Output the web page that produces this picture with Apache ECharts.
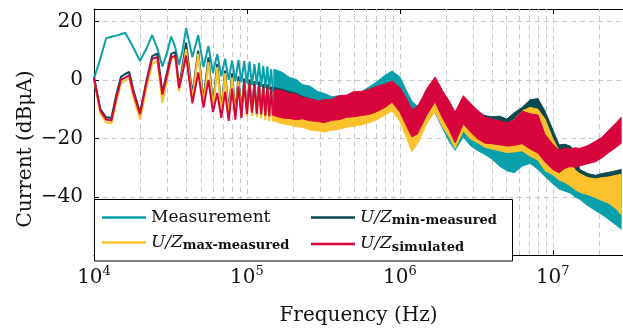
<!DOCTYPE html>
<html>
<head>
<meta charset="utf-8">
<script src="https://cdn.jsdelivr.net/npm/echarts@6.0.0/dist/echarts.min.js"></script>
<style>
html, body { margin: 0; padding: 0; background: #fff; }
#chart { width: 623px; height: 331px; }
</style>
</head>
<body>
<div id="chart"></div>
<script>
// low-frequency part: individual resonance points (Hz / dBµA)
const lowFreq = [10000, 11000, 12000, 13000, 14000, 15000, 16000, 17000, 18000, 20000, 22000, 24000, 26000, 28000, 30000, 32000, 34000, 36000, 38000, 40000,
	44000, 48000, 52000, 56000, 60000, 64000, 68000, 72000, 76000, 80000, 84000, 88000, 92000, 96000, 100000, 104000, 108000, 112000, 116000, 120000,
	124000, 128000, 132000, 136000, 140000, 144000, 148000]
const measLow = [0.5, 7.2, 14.2, 14.7, 15.1, 15.6, 16.1, 13.6, 11.2, 6.5, 10.6, 15.3, 10.6, 4.6, 9.2, 14.8, 11.1, 5.2, 10.3, 17.6,
	7.8, 15.3, 4.4, 11.6, 2.4, 8.8, 1.2, 7.2, 0.0, 6.6, -0.5, 6.8, -0.8, 6.4, -1.2, 6.2, -1.8, 5.4, -1.6, 5.8,
	-2.4, 4.8, -2.8, 4.6, -3.4, 3.6, -4.0]
const minLow = [1.0, -10.0, -12.8, -13.0, -5.0, 1.0, 2.0, 2.7, -3.0, -11.2, -0.5, 8.1, 9.0, -4.4, 2.5, 8.9, 9.5, -2.3, 5.0, 12.7,
	-5.0, 10.0, -7.0, 7.7, -8.5, 5.5, -10.0, 3.2, -11.0, 2.2, -11.2, 1.2, -10.8, 0.5, -10.5, 0.2, -10.6, -0.4, -11.0, -0.6,
	-11.4, -1.4, -12.0, -1.6, -12.2, -2.4, -12.4]
const maxLow = [0.0, -11.5, -14.5, -14.8, -7.5, -1.2, -0.3, 0.5, -5.5, -13.4, -3.0, 5.5, 6.5, -7.8, 0.0, 7.2, 7.7, -3.9, 3.5, 10.5,
	-6.5, 8.9, -8.5, 6.1, -10.0, 4.4, -11.5, 2.2, -12.5, 0.8, -12.6, -0.4, -12.2, -1.0, -12.5, -1.6, -12.4, -2.0, -12.8, -2.4,
	-13.2, -3.0, -13.8, -3.2, -14.0, -3.8, -14.2]
const simLow = [0.5, -10.5, -13.5, -13.9, -6.0, 0.0, 0.8, 1.6, -4.0, -11.7, -1.0, 7.2, 7.7, -5.0, 1.5, 7.7, 8.3, -2.8, 2.5, 8.3,
	-8.0, 2.5, -9.5, 0.0, -11.0, -4.5, -13.0, -4.0, -14.0, -3.0, -13.6, -2.2, -13.0, -1.0, -11.7, -1.4, -11.2, -1.8, -11.6, -2.0,
	-11.8, -2.6, -12.2, -2.4, -12.4, -3.2, -12.2]

// dense part: upper / lower envelope of each noisy trace
const bandFreq = [
	1.5e5, 1.7e5, 1.9e5, 2.1e5, 2.3e5, 2.6e5, 2.9e5, 3.2e5, 3.6e5, 4e5, 4.5e5, 5e5, 5.6e5, 6.3e5, 7.1e5, 8e5, 8.9e5,
	1e6, 1.1e6, 1.2e6, 1.3e6, 1.4e6, 1.5e6, 1.7e6, 1.9e6, 2.1e6, 2.3e6, 2.6e6, 2.9e6, 3.2e6, 3.6e6, 4e6, 4.5e6, 5e6, 5.6e6, 6.3e6, 7.1e6, 8e6, 8.9e6,
	1e7, 1.1e7, 1.2e7, 1.3e7, 1.4e7, 1.5e7, 1.7e7, 1.9e7, 2.1e7, 2.3e7, 2.6e7, 2.8e7
]
const measHi = [3.6, 2.6, 0.8, 0.2, -1.6, -2.2, -4.0, -4.6, -5.8, -5.4, -5.9, -4.4, -4.0, -2.4, -0.6, 1.6, 3.0,
	1.0, -3.5, -7.3, -9.0, -8.0, -5.5, -3.5, -7.0, -11.0, -14.0, -11.5, -13.5, -15.0, -17.0, -19.5, -21.5, -23.0, -23.5, -21.5, -21.0, -23.0, -26.0,
	-28.0, -30.0, -31.0, -31.5, -33.0, -33.5, -36.0, -37.5, -39.0, -40.5, -43.0, -44.5]
const measLo = [-4.0, -4.8, -5.8, -6.4, -7.6, -8.2, -9.4, -9.8, -10.4, -10.2, -10.6, -10.0, -9.4, -8.6, -7.2, -5.4, -3.8,
	-5.5, -9.5, -13.4, -15.5, -15.0, -12.5, -11.2, -16.5, -21.0, -24.0, -19.5, -22.5, -24.0, -25.5, -27.0, -29.5, -31.0, -31.7, -29.5, -28.5, -30.5, -33.0,
	-35.5, -37.3, -38.0, -38.6, -40.0, -40.8, -43.0, -44.6, -46.0, -47.5, -49.6, -51.0]
const minHi = [-2.6, -3.2, -4.0, -4.6, -5.6, -6.4, -7.2, -7.0, -6.8, -6.0, -5.4, -4.6, -4.4, -3.8, -2.8, -2.0, -1.2,
	-3.0, -7.0, -11.0, -10.0, -7.0, -4.0, 0.0, -4.4, -8.0, -11.8, -6.4, -8.6, -10.8, -12.2, -12.6, -12.4, -13.4, -11.2, -9.4, -6.8, -6.4, -10.6,
	-17.0, -22.2, -22.0, -22.6, -24.2, -30.6, -32.0, -32.6, -32.0, -31.6, -31.0, -30.6]
const minLo = [-12.4, -13.4, -13.8, -14.4, -14.6, -15.6, -15.8, -16.2, -15.6, -15.2, -14.6, -14.2, -13.8, -13.0, -12.0, -10.4, -9.0,
	-12.6, -18.0, -22.5, -20.5, -17.0, -13.5, -9.2, -14.5, -18.0, -22.0, -16.0, -18.8, -20.0, -21.5, -22.0, -22.6, -23.2, -23.0, -22.6, -24.4, -25.8, -29.4,
	-30.8, -32.6, -33.4, -34.6, -35.8, -36.8, -37.6, -38.6, -39.6, -40.2, -41.8, -43.4]
const maxHi = [-3.8, -4.4, -5.0, -5.6, -6.6, -7.2, -7.8, -7.6, -7.4, -6.6, -6.0, -5.2, -5.0, -4.4, -3.4, -2.6, -1.8,
	-3.6, -7.6, -11.5, -10.5, -7.5, -4.5, -0.5, -5.0, -8.6, -12.4, -7.0, -9.2, -11.4, -13.4, -14.0, -14.6, -15.0, -13.6, -10.6, -9.4, -10.0, -13.4,
	-20.0, -24.2, -25.0, -27.6, -30.8, -32.0, -33.4, -33.8, -33.4, -33.2, -32.6, -32.2]
const maxLo = [-14.0, -15.0, -15.4, -16.0, -16.2, -17.2, -17.4, -17.8, -17.2, -16.8, -16.2, -15.8, -15.4, -14.6, -13.6, -12.0, -10.6,
	-14.2, -19.5, -24.5, -22.0, -18.4, -15.0, -10.8, -16.0, -19.4, -23.4, -17.4, -20.2, -21.4, -23.0, -23.6, -24.2, -24.8, -24.6, -24.2, -26.0, -27.4, -31.0,
	-32.4, -34.2, -35.0, -36.2, -37.4, -38.4, -39.2, -40.2, -41.2, -42.0, -44.0, -46.0]
const simHi = [-3.4, -3.6, -4.6, -4.8, -6.0, -6.4, -7.2, -6.8, -6.6, -5.4, -5.2, -4.0, -4.0, -3.2, -2.2, -1.4, -0.4,
	-2.6, -6.2, -10.0, -9.2, -6.2, -3.0, 1.0, -3.6, -7.2, -11.0, -5.4, -8.0, -10.2, -12.6, -13.4, -14.0, -14.6, -13.8, -10.6, -11.6, -12.0, -18.6,
	-22.0, -24.0, -23.4, -23.6, -23.2, -23.4, -22.4, -21.0, -19.6, -17.4, -14.6, -12.8]
const simLo = [-12.2, -13.0, -13.2, -13.6, -13.3, -14.0, -14.2, -14.6, -13.8, -13.6, -12.8, -12.6, -12.2, -11.8, -10.8, -9.4, -7.6,
	-11.0, -15.5, -19.5, -18.5, -15.2, -12.0, -7.5, -13.0, -17.0, -21.5, -15.0, -17.8, -20.0, -21.6, -21.8, -22.2, -22.6, -22.4, -21.8, -23.6, -25.0, -28.0,
	-30.6, -31.7, -30.2, -29.6, -29.8, -29.4, -28.6, -28.0, -26.6, -25.0, -23.0, -21.7]

// minor log grid lines
const minorTicks = [2e4, 3e4, 4e4, 5e4, 6e4, 7e4, 8e4, 9e4, 2e5, 3e5, 4e5, 5e5, 6e5, 7e5, 8e5, 9e5, 2e6, 3e6, 4e6, 5e6, 6e6, 7e6, 8e6, 9e6, 2e7]

const FONT = 'DejaVu Serif'
const colors = { meas: '#0aa0aa', min: '#0a4a4f', max: '#fcc22d', sim: '#d6063c' }
const gridDash = { type: [5, 4], color: '#c8c8c8', width: 1 }

function lineSeries(name, color, values) {
	return {
		name,
		type: 'line',
		data: lowFreq.map((f, i) => [f, values[i]]),
		showSymbol: false,
		lineStyle: { color, width: 2 },
		itemStyle: { color }
	}
}

function bandSeries(name, color, hi, lo) {
	return {
		name: name + ' band',
		type: 'custom',
		clip: true,
		silent: true,
		data: [[bandFreq[0], hi[0]]],
		renderItem: (params, api) => {
			const pts = bandFreq.map((f, i) => api.coord([f, hi[i]]))
			for (let i = bandFreq.length - 1; i >= 0; i--) pts.push(api.coord([bandFreq[i], lo[i]]))
			return { type: 'polygon', shape: { points: pts }, style: { fill: color, stroke: color, lineWidth: 1 } }
		}
	}
}

const measurement = lineSeries('Measurement', colors.meas, measLow)
measurement.markLine = {
	silent: true,
	z: 1,
	symbol: 'none',
	label: { show: false },
	lineStyle: gridDash,
	data: minorTicks.map((f) => ({ xAxis: f }))
}

const legendFmt = (name) =>
	name === 'Measurement' ? '{r|Measurement}' : '{i|U/Z}{s|' + name.slice(4) + '}'
const legendRich = {
	r: { fontFamily: FONT, fontSize: 17, lineHeight: 20, color: '#111' },
	i: { fontFamily: FONT, fontStyle: 'italic', fontSize: 17, lineHeight: 20, color: '#111' },
	s: { fontFamily: FONT, fontWeight: 'bold', fontSize: 13, lineHeight: 11, verticalAlign: 'bottom', color: '#111' }
}
const legendBase = {
	orient: 'vertical',
	top: 204,
	itemWidth: 44,
	itemHeight: 2.5,
	itemGap: 8,
	icon: 'rect',
	selectedMode: false,
	formatter: legendFmt,
	textStyle: { rich: legendRich }
}

const xBase = {
	type: 'log',
	logBase: 10,
	min: 1e4,
	max: 2.88e7,
	axisLine: { show: true, onZero: false, lineStyle: { color: '#000', width: 1 } },
	axisTick: { inside: true, length: 5, lineStyle: { color: '#000' } }
}

const chart = echarts.init(document.getElementById('chart'))
chart.setOption({
	animation: false,
	backgroundColor: '#fff',
	grid: { left: 94, top: 9, width: 531, height: 252 },
	xAxis: [
		Object.assign({}, xBase, {
			position: 'bottom',
			name: 'Frequency (Hz)',
			nameLocation: 'middle',
			nameGap: 51,
			nameMoveOverlap: false,
			nameTextStyle: { fontFamily: FONT, fontSize: 20, color: '#111' },
			axisLabel: {
				margin: 10,
				showMaxLabel: false,
				formatter: (v) => {
					const e = Math.round(Math.log10(v))
					if (Math.abs(Math.log10(v) - e) > 1e-6) return ''
					return '{b|10}{e|' + e + '}'
				},
				rich: {
					b: { fontFamily: FONT, fontSize: 20, lineHeight: 26, color: '#111' },
					e: { fontFamily: FONT, fontSize: 13, lineHeight: 13, verticalAlign: 'top', color: '#111' }
				}
			},
			splitLine: { show: true, showMinLine: false, showMaxLine: false, lineStyle: gridDash }
		}),
		Object.assign({}, xBase, {
			position: 'top',
			axisLabel: { show: false },
			splitLine: { show: false }
		})
	],
	yAxis: {
		type: 'value',
		min: -59.8,
		max: 24.2,
		splitNumber: 4,
		name: 'Current (dBμA)',
		nameLocation: 'middle',
		nameGap: 58,
		nameMoveOverlap: false,
		nameTextStyle: { fontFamily: FONT, fontSize: 20, color: '#111', padding: [0, 34, 0, 0] },
		axisLine: { show: true, onZero: false, lineStyle: { color: '#000', width: 1 } },
		axisTick: { inside: true, length: 5, lineStyle: { color: '#000' } },
		axisLabel: {
			margin: 11,
			showMinLabel: false,
			showMaxLabel: false,
			fontFamily: FONT,
			fontSize: 20,
			color: '#111',
			formatter: (v) => (v < 0 ? '\u2212' + Math.abs(v) : String(v))
		},
		splitLine: { show: true, showMinLine: false, showMaxLine: false, lineStyle: gridDash }
	},
	legend: [
		Object.assign({}, legendBase, { left: 97, data: ['Measurement', 'U/Z max-measured'] }),
		Object.assign({}, legendBase, { left: 306, data: ['U/Z min-measured', 'U/Z simulated'] })
	],
	graphic: [
		{
			type: 'rect',
			z: 3,
			shape: { x: 94.5, y: 199.5, width: 418, height: 61.5 },
			style: { fill: '#fff', stroke: '#000', lineWidth: 1 }
		}
	],
	series: [
		measurement,
		bandSeries('Measurement', colors.meas, measHi, measLo),
		lineSeries('U/Z min-measured', colors.min, minLow),
		bandSeries('U/Z min-measured', colors.min, minHi, minLo),
		lineSeries('U/Z max-measured', colors.max, maxLow),
		bandSeries('U/Z max-measured', colors.max, maxHi, maxLo),
		lineSeries('U/Z simulated', colors.sim, simLow),
		bandSeries('U/Z simulated', colors.sim, simHi, simLo)
	]
})
</script>
</body>
</html>
